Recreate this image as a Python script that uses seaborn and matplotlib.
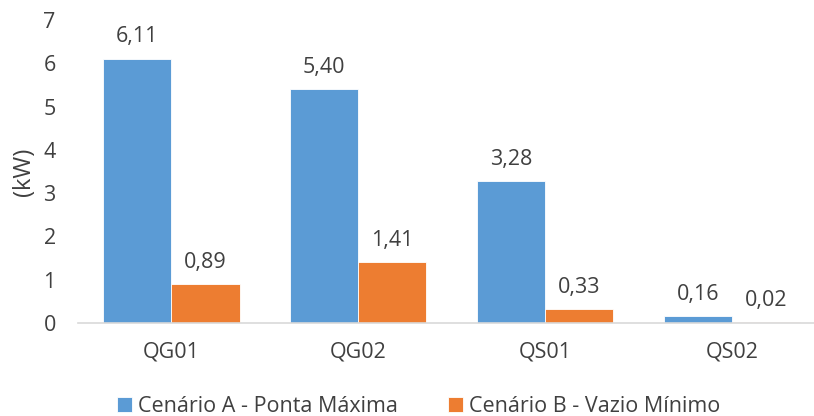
import numpy as np
import pandas as pd
import matplotlib
matplotlib.use("Agg")
import matplotlib.pyplot as plt
import seaborn as sns

sns.set_theme(style="white")
plt.rcParams['font.family'] = ['Open Sans', 'DejaVu Sans']

# data
quadros = ["QG01", "QG02", "QS01", "QS02"]
cenario_a = [6.11, 5.40, 3.28, 0.16]
cenario_b = [0.89, 1.41, 0.33, 0.02]
series = ["Cenário A - Ponta Máxima", "Cenário B - Vazio Mínimo"]
colors = ["#5B9BD5", "#ED7D31"]

df = pd.DataFrame({
    "quadro": quadros * 2,
    "kw": cenario_a + cenario_b,
    "cenario": [series[0]] * 4 + [series[1]] * 4,
})

txt = "#404040"
fs = 15.5
fig = plt.figure(figsize=(8.14, 4.16), dpi=100)
ax = fig.add_axes([78 / 814, 93 / 416, 736 / 814, 303 / 416])

sns.barplot(data=df, x="quadro", y="kw", hue="cenario", palette=colors,
            width=0.73, ax=ax, edgecolor="white", linewidth=0.6,
            saturation=1, errorbar=None)

# value labels with comma decimals
for cont in ax.containers:
    vals = [b.get_height() for b in cont]
    ax.bar_label(cont, labels=[f"{v:.2f}".replace(".", ",") for v in vals],
                 padding=8, fontsize=fs, color=txt)

ax.set_ylim(0, 7)
ax.set_xlim(-0.5, 3.44)
ax.set_yticks(range(0, 8))
ax.set_xlabel("")
ax.set_ylabel("(kW)", fontsize=17, color=txt, labelpad=5)
ax.tick_params(axis="y", labelsize=fs, labelcolor=txt, pad=16, length=0)
ax.tick_params(axis="x", labelsize=fs, labelcolor=txt, pad=13, length=0)

for s in ["top", "right", "left"]:
    ax.spines[s].set_visible(False)
ax.spines["bottom"].set_color("#D9D9D9")
ax.spines["bottom"].set_linewidth(1.2)

leg = ax.legend(loc="lower center", bbox_to_anchor=(0.463, -0.375), ncol=2,
                frameon=False, fontsize=fs, handlelength=0.7, handleheight=0.7,
                handletextpad=0.3, columnspacing=2.3)
for t in leg.get_texts():
    t.set_color(txt)

fig.savefig("out.png", dpi=100)
